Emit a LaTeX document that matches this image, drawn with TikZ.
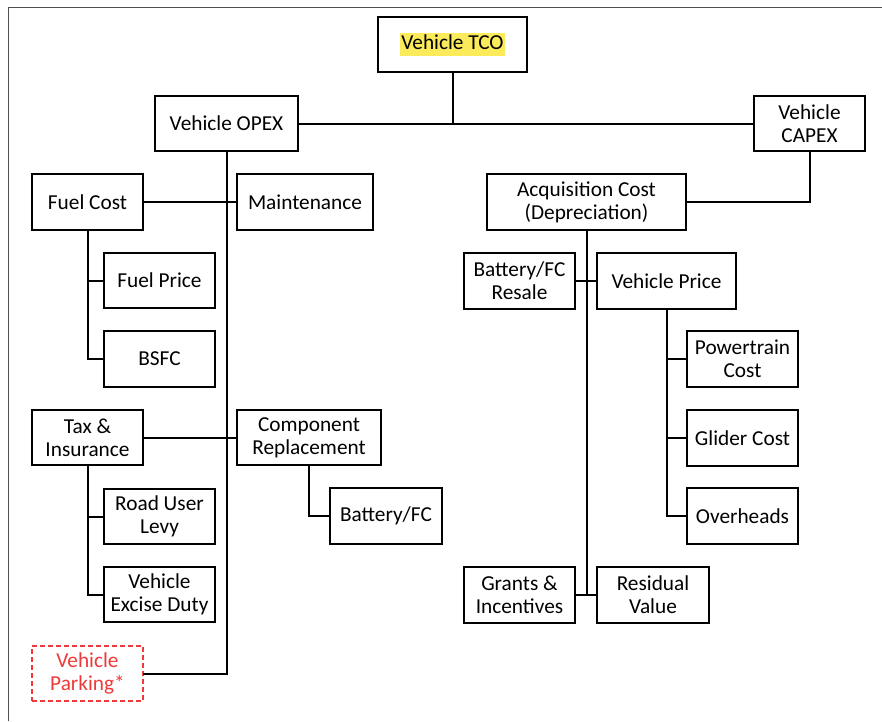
\documentclass[tikz,border=0pt]{standalone}
\usepackage{fontspec}
\setmainfont{Carlito}
\definecolor{hl}{HTML}{FBEB5B}
\definecolor{parkred}{HTML}{EE3A3A}
\definecolor{framegray}{HTML}{505050}
\newcommand\txtsize{\fontsize{21.3}{23}\selectfont}
% box from corner (x1,y1) to (x2,y2), in pixel units with y downward
\newcommand\bx[7][]{%
  \node[box,#1,minimum width={(#5-#3)*1pt},minimum height={(#6-#4)*1pt}]
    (#2) at ({(#3+#5)/2},{(#4+#6)/2}) {#7};}
\tikzset{
  box/.style={draw,line width=2pt,inner sep=0pt,align=center,font=\txtsize},
  link/.style={line width=2pt,line cap=rect},
  parkbox/.style={draw=parkred,text=parkred,dashed,dash pattern=on 5pt off 3pt,line width=1.6pt}
}
\begin{document}
\begin{tikzpicture}[x=1pt,y=-1pt]
\useasboundingbox (0,0) rectangle (882,721);
% outer frame edges
\draw[framegray,line width=1pt] (8,721) -- (8,7) -- (882,7);

% top level
\bx{tco}{378}{17}{527}{72}{\setlength\fboxsep{1.5pt}\colorbox{hl}{\rule[-5pt]{0pt}{19pt}Vehicle TCO}}
\bx{opex}{155}{96}{298}{151}{Vehicle OPEX}
\bx{capex}{754}{96}{865}{151}{Vehicle\\CAPEX}

% OPEX branch
\bx{fuel}{32}{174}{143}{230}{Fuel Cost}
\bx{maint}{237}{174}{373}{230}{Maintenance}
\bx{fprice}{104}{253}{215}{308}{Fuel Price}
\bx{bsfc}{104}{331}{215}{387}{BSFC}
\bx{tax}{32}{410}{143}{465}{Tax \&\\Insurance}
\bx{comp}{237}{410}{381}{465}{Component\\Replacement}
\bx{levy}{104}{489}{215}{544}{Road User\\Levy}
\bx{excise}{104}{567}{215}{622}{Vehicle\\Excise Duty}
\bx{battfc}{330}{488}{442}{544}{Battery/FC}
\bx[parkbox]{park}{32}{646}{143}{701}{Vehicle\\Parking*}

% CAPEX branch
\bx{acq}{487}{174}{686}{230}{Acquisition Cost\\(Depreciation)}
\bx{resale}{464}{253}{575}{309}{Battery/FC\\Resale}
\bx{vprice}{597}{253}{736}{309}{Vehicle Price}
\bx{power}{687}{331}{798}{387}{Powertrain\\Cost}
\bx{glider}{687}{410}{798}{466}{Glider Cost}
\bx{over}{687}{488}{798}{544}{Overheads}
\bx{grants}{464}{567}{575}{623}{Grants \&\\Incentives}
\bx{resid}{597}{567}{709}{623}{Residual\\Value}

% connectors
\draw[link] (tco.south) -- (tco.south |- opex.east);
\draw[link] (opex.east) -- (capex.west);
\draw[link] (opex.south) -- (opex.south |- park.east) -- (park.east);
\draw[link] (fuel.east) -- (maint.west);
\draw[link] (fuel.south) |- (bsfc.west);
\draw[link] (fprice.west) -- (fprice.west -| fuel.south);
\draw[link] (tax.east) -- (comp.west);
\draw[link] (tax.south) |- (excise.west);
\draw[link] (levy.west) -- (levy.west -| tax.south);
\draw[link] (comp.south) |- (battfc.west);

\draw[link] (capex.south) |- (acq.east);
\draw[link] (acq.south) -- (acq.south |- grants.east);
\draw[link] (resale.east) -- (vprice.west);
\draw[link] (grants.east) -- (resid.west);
\draw[link] (vprice.south) |- (over.west);
\draw[link] (power.west) -- (power.west -| vprice.south);
\draw[link] (glider.west) -- (glider.west -| vprice.south);
\end{tikzpicture}
\end{document}
